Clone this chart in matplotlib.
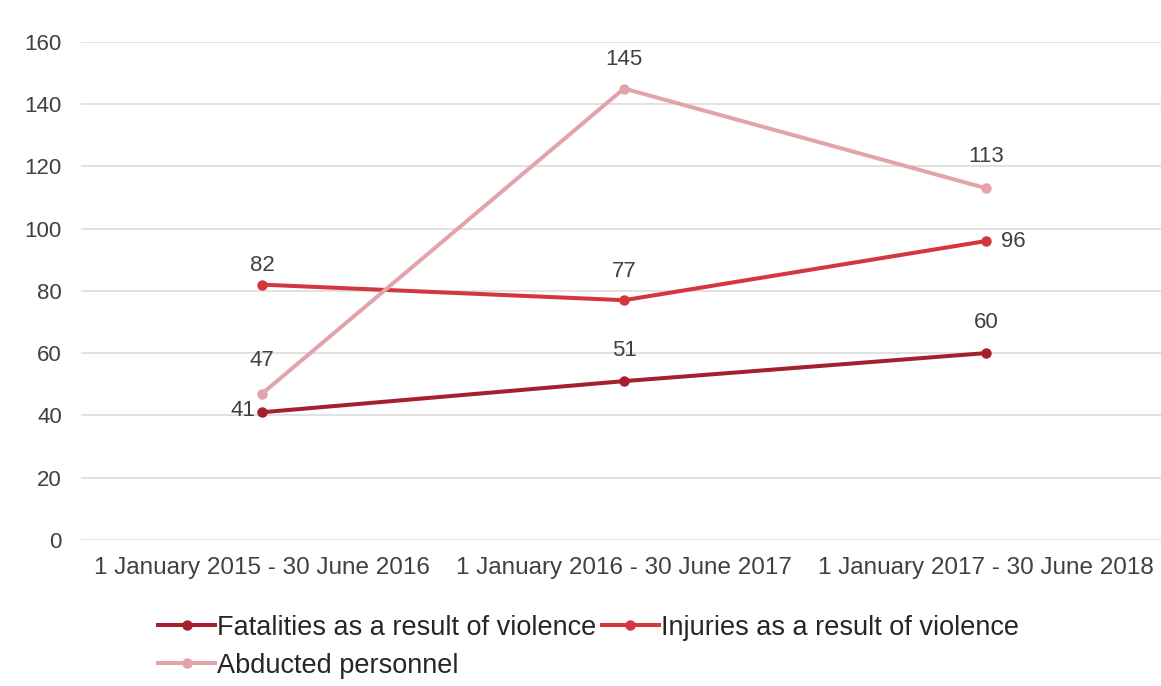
import matplotlib.pyplot as plt

periods = ['1 January 2015 - 30 June 2016', '1 January 2016 - 30 June 2017', '1 January 2017 - 30 June 2018']
fatalities = [41, 51, 60]
injuries = [82, 77, 96]
abducted = [47, 145, 113]
series_names = ['Fatalities as a result of violence', 'Injuries as a result of violence', 'Abducted personnel']
colors = ['#a61f2e', '#d3363f', '#e2a4aa']
# where each value label goes relative to its point: (dx, dy) in points
label_offsets = [
    [(-14, 1), (0, 22), (0, 22)],
    [(0, 14), (0, 21), (20, 0)],
    [(0, 24), (0, 21), (0, 23)],
]

plt.rcParams['font.family'] = ['Liberation Sans', 'DejaVu Sans']

fig = plt.figure(figsize=(11.61, 6.86), dpi=100)
ax = fig.add_axes([0.07, 0.213, 0.935, 0.726])

x = range(len(periods))
handles = []
for vals, name, col, offs in zip([fatalities, injuries, abducted], series_names, colors, label_offsets):
    h, = ax.plot(x, vals, color=col, lw=2.9, marker='o', ms=6.5, label=name, zorder=3)
    handles.append(h)
    for xi, v, (dx, dy) in zip(x, vals, offs):
        ax.annotate(str(v), (xi, v), xytext=(dx, dy), textcoords='offset points',
                    ha='center', va='center', fontsize=16, color='#404040')

ax.set_xlim(-0.5, 2.5)
ax.set_ylim(0, 160)
ax.set_yticks(range(0, 161, 20))
ax.set_xticks(list(x))
ax.set_xticklabels(periods)
ax.grid(axis='y', color='#dcdcdc', lw=1.2)
ax.set_axisbelow(True)
for s in ax.spines.values():
    s.set_visible(False)
ax.tick_params(length=0, labelcolor='#404040')
ax.tick_params(axis='x', labelsize=17.5, pad=12)
ax.tick_params(axis='y', labelsize=16, pad=14)

# reorder so the legend reads row by row
leg = fig.legend([handles[0], handles[2], handles[1]],
                 [series_names[0], series_names[2], series_names[1]],
                 ncol=2, loc='upper left', bbox_to_anchor=(0.127, 0.12),
                 frameon=False, fontsize=19.5,
                 handlelength=2.1, handletextpad=0.08,
                 columnspacing=0.2, labelspacing=0.45, borderaxespad=0)
for t in leg.get_texts():
    t.set_color('#262626')

fig.savefig('out.png', dpi=100)
